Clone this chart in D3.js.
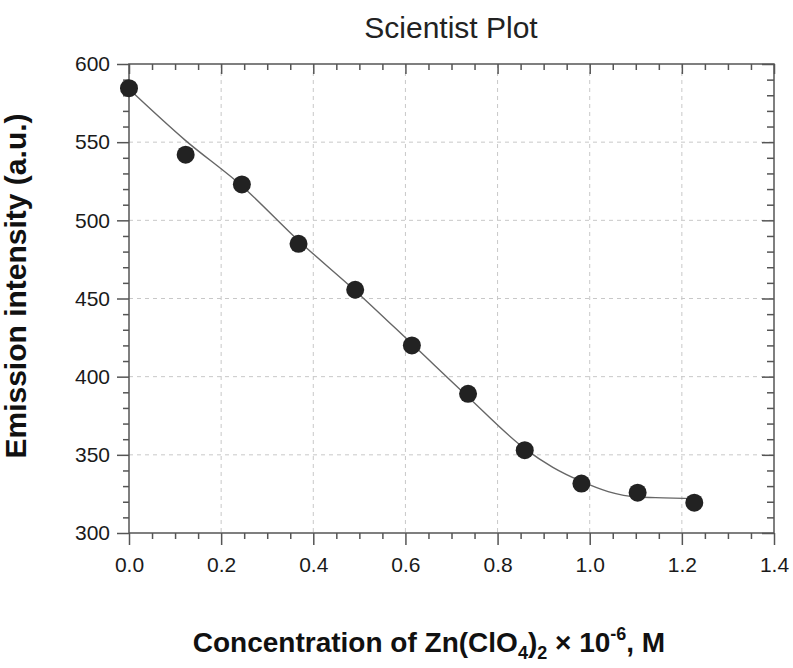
<!DOCTYPE html>
<html><head><meta charset="utf-8">
<script src="https://cdn.jsdelivr.net/npm/d3@7"></script>
<style>body{margin:0;background:#fff}svg{display:block}</style>
</head><body>
<script>
// Data
const concentration = [0, 0.123, 0.245, 0.368, 0.491, 0.614, 0.736, 0.859, 0.982, 1.104, 1.227];
const intensity     = [584.5, 542, 523, 485, 455.6, 420, 389, 353, 331.6, 325.8, 319.4];
// Fitted curve
const fitX = [0, 0.123, 0.245, 0.368, 0.491, 0.614, 0.736, 0.859, 0.92, 0.982, 1.04, 1.104, 1.16, 1.227];
const fitY = [584, 551, 522, 487, 455, 421, 387, 354, 342, 333, 326.5, 323, 322.5, 322];
const xTicks = [0, 0.2, 0.4, 0.6, 0.8, 1.0, 1.2, 1.4];
const yTicks = [300, 350, 400, 450, 500, 550, 600];
const titleText = "Scientist Plot";
const yLabel = "Emission intensity (a.u.)";

const W = 793, H = 668;
const m = {left: 129, right: 774, top: 64, bottom: 533};
const svg = d3.select("body").append("svg").attr("width", W).attr("height", H);
const font = "'Liberation Sans', Arial, sans-serif";

const x = d3.scaleLinear().domain([0, 1.4]).range([m.left, m.right]);
const y = d3.scaleLinear().domain([300, 600]).range([m.bottom, m.top]);

const xMinor = d3.range(0, 1.4001, 0.05).map(v => +v.toFixed(2)).filter(v => !xTicks.some(t => Math.abs(t - v) < 1e-6));
const yMinor = d3.range(300, 601, 10).filter(v => v % 50 !== 0);

// grid
const grid = svg.append("g").attr("stroke", "#c8c8c8").attr("stroke-width", 1).attr("stroke-dasharray", "4,4");
grid.selectAll("line.gx").data(xTicks.slice(1, -1)).enter().append("line")
  .attr("x1", d => x(d)).attr("x2", d => x(d)).attr("y1", m.top).attr("y2", m.bottom);
grid.selectAll("line.gy").data(yTicks.slice(1, -1)).enter().append("line")
  .attr("y1", d => y(d)).attr("y2", d => y(d)).attr("x1", m.left).attr("x2", m.right);

function styleAxis(g) {
  g.select(".domain").remove();
  g.selectAll(".tick line").attr("stroke", "#555").attr("stroke-width", 1.5);
  g.selectAll(".tick text").attr("font-family", font).attr("font-size", 21).attr("fill", "#1a1a1a");
}
const fmtX = d3.format(".1f");
// bottom
svg.append("g").attr("transform", `translate(0,${m.bottom})`)
  .call(d3.axisBottom(x).tickValues(xTicks).tickFormat(fmtX).tickSize(12).tickPadding(12)).call(styleAxis);
svg.append("g").attr("transform", `translate(0,${m.bottom})`)
  .call(d3.axisBottom(x).tickValues(xMinor).tickFormat("").tickSize(6)).call(styleAxis);
// top (inward)
svg.append("g").attr("transform", `translate(0,${m.top})`)
  .call(d3.axisTop(x).tickValues(xTicks).tickFormat("").tickSize(-10)).call(styleAxis);
svg.append("g").attr("transform", `translate(0,${m.top})`)
  .call(d3.axisTop(x).tickValues(xMinor).tickFormat("").tickSize(-6)).call(styleAxis);
// left
svg.append("g").attr("transform", `translate(${m.left},0)`)
  .call(d3.axisLeft(y).tickValues(yTicks).tickSize(12).tickPadding(7)).call(styleAxis);
svg.append("g").attr("transform", `translate(${m.left},0)`)
  .call(d3.axisLeft(y).tickValues(yMinor).tickFormat("").tickSize(6)).call(styleAxis);
// right (inward)
svg.append("g").attr("transform", `translate(${m.right},0)`)
  .call(d3.axisRight(y).tickValues(yTicks).tickFormat("").tickSize(-12)).call(styleAxis);
svg.append("g").attr("transform", `translate(${m.right},0)`)
  .call(d3.axisRight(y).tickValues(yMinor).tickFormat("").tickSize(-7)).call(styleAxis);

// frame
svg.append("rect").attr("x", m.left).attr("y", m.top).attr("width", m.right - m.left).attr("height", m.bottom - m.top)
  .attr("fill", "none").attr("stroke", "#555").attr("stroke-width", 1.5);

// fit curve
const fit = fitX.map((d, i) => [d, fitY[i]]);
svg.append("path").datum(fit)
  .attr("d", d3.line().x(d => x(d[0])).y(d => y(d[1])).curve(d3.curveMonotoneX))
  .attr("fill", "none").attr("stroke", "#666").attr("stroke-width", 1.4);

// points
svg.append("g").selectAll("circle").data(concentration).enter().append("circle")
  .attr("cx", d => x(d)).attr("cy", (d, i) => y(intensity[i])).attr("r", 9).attr("fill", "#222");

// title
svg.append("text").attr("x", 451).attr("y", 38).attr("text-anchor", "middle")
  .attr("font-family", font).attr("font-size", 30).attr("fill", "#222").text(titleText);

// y label
svg.append("text").attr("transform", `translate(26,${286}) rotate(-90)`).attr("text-anchor", "middle")
  .attr("font-family", font).attr("font-size", 30).attr("font-weight", "bold").attr("fill", "#111").text(yLabel);

// x label with sub/superscripts
const xl = svg.append("text").attr("x", 429).attr("y", 652).attr("text-anchor", "middle")
  .attr("font-family", font).attr("font-size", 28).attr("font-weight", "bold").attr("fill", "#111");
xl.append("tspan").text("Concentration of Zn(ClO");
xl.append("tspan").attr("font-size", 18).attr("dy", 7).text("4");
xl.append("tspan").attr("dy", -7).text(")");
xl.append("tspan").attr("font-size", 18).attr("dy", 7).text("2");
xl.append("tspan").attr("dy", -7).text(" × 10");
xl.append("tspan").attr("font-size", 18).attr("dy", -12).text("-6");
xl.append("tspan").attr("dy", 12).text(", M");
</script>
</body></html>
